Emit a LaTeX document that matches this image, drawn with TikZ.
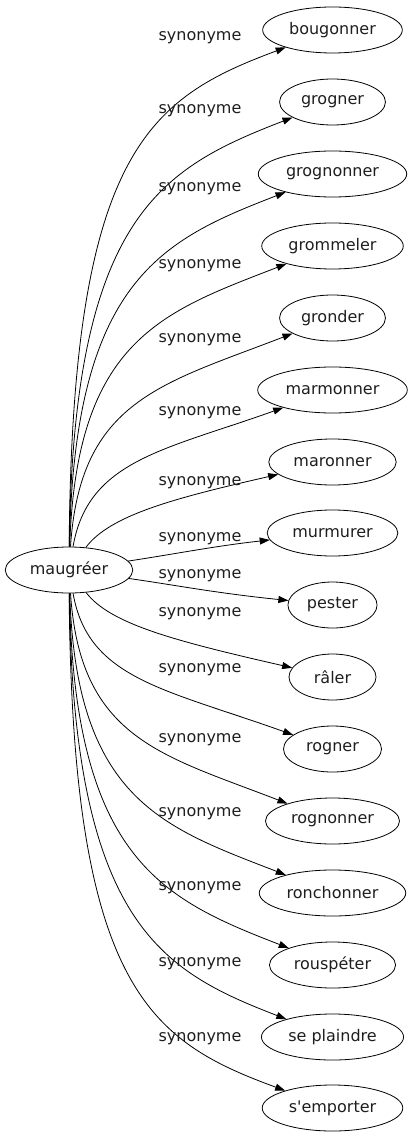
\documentclass[tikz,border=0pt]{standalone}
\usepackage{fontspec}
\setmainfont{DejaVu Sans}
\usepackage{tikz}
\usetikzlibrary{arrows.meta,shapes.geometric}
\definecolor{wdtext}{RGB}{30,30,30}
\tikzset{
  word/.style={ellipse,draw=black,line width=0.8pt,inner xsep=6pt,inner ysep=2pt,minimum height=46pt,text=wdtext,font=\fontsize{16}{19}\selectfont},
  syn/.style={-{Triangle[length=10pt,width=7pt]},line width=0.8pt,draw=black},
  lbl/.style={anchor=base,inner sep=0pt,text=wdtext,font=\fontsize{16}{19}\selectfont},
}
\begin{document}
\begin{tikzpicture}[x=1pt,y=-1pt]
  \useasboundingbox (0,0) rectangle (412,1139);
  \node[word] (mg) at (69,570) {maugréer};

  \node[word] (bou) at (332.5,30) {bougonner};
  \node[word] (grog) at (332.5,102) {grogner};
  \node[word] (grogn) at (332.5,174) {grognonner};
  \node[word] (gromm) at (332.5,246) {grommeler};
  \node[word] (gron) at (332.5,318) {gronder};
  \node[word] (marm) at (332.5,390) {marmonner};
  \node[word] (maro) at (332.5,462) {maronner};
  \node[word] (murm) at (332.5,533) {murmurer};
  \node[word] (pest) at (332.5,605) {pester};
  \node[word,minimum width=87pt] (ral) at (332.5,677) {râler};
  \node[word,minimum width=98pt] (rog) at (332.5,749) {rogner};
  \node[word] (rogn) at (332.5,821) {rognonner};
  \node[word] (ronch) at (332.5,893) {ronchonner};
  \node[word] (rousp) at (332.5,965) {rouspéter};
  \node[word] (plain) at (332.5,1037) {se plaindre};
  \node[word] (empo) at (332.5,1108) {s\textquotesingle emporter};

  % upper fan
  \draw[syn] (mg) .. controls (72,150) and (150,98) .. (bou) node[lbl] at (200,40.5) {synonyme};
  \draw[syn] (mg) .. controls (73,215) and (162,168) .. (grog) node[lbl] at (200,113.5) {synonyme};
  \draw[syn] (mg) .. controls (74,280) and (162,240) .. (grogn) node[lbl] at (200,191.5) {synonyme};
  \draw[syn] (mg) .. controls (76,340) and (162,312) .. (gromm) node[lbl] at (200,268.5) {synonyme};
  \draw[syn] (mg) .. controls (80,400) and (162,384) .. (gron) node[lbl] at (200,342.5) {synonyme};
  \draw[syn] (mg) .. controls (88,460) and (165,450) .. (marm) node[lbl] at (200,415.5) {synonyme};
  \draw[syn] (mg) .. controls (110,515) and (175,498) .. (maro) node[lbl] at (200,485.5) {synonyme};
  \draw[syn] (mg) .. controls (175,554) and (215,546) .. (murm) node[lbl] at (200,541.5) {synonyme};

  % lower fan
  \draw[syn] (mg) .. controls (175,585) and (215,593) .. (pest) node[lbl] at (200,578.5) {synonyme};
  \draw[syn] (mg) .. controls (110,624) and (175,641) .. (ral) node[lbl] at (200,616.5) {synonyme};
  \draw[syn] (mg) .. controls (88,679) and (165,689) .. (rog) node[lbl] at (200,672.5) {synonyme};
  \draw[syn] (mg) .. controls (80,739) and (162,755) .. (rogn) node[lbl] at (200,742.5) {synonyme};
  \draw[syn] (mg) .. controls (76,799) and (162,827) .. (ronch) node[lbl] at (200,816.5) {synonyme};
  \draw[syn] (mg) .. controls (74,859) and (162,899) .. (rousp) node[lbl] at (200,890.5) {synonyme};
  \draw[syn] (mg) .. controls (73,924) and (162,971) .. (plain) node[lbl] at (200,966.5) {synonyme};
  \draw[syn] (mg) .. controls (72,989) and (150,1041) .. (empo) node[lbl] at (200,1041.5) {synonyme};
\end{tikzpicture}
\end{document}
